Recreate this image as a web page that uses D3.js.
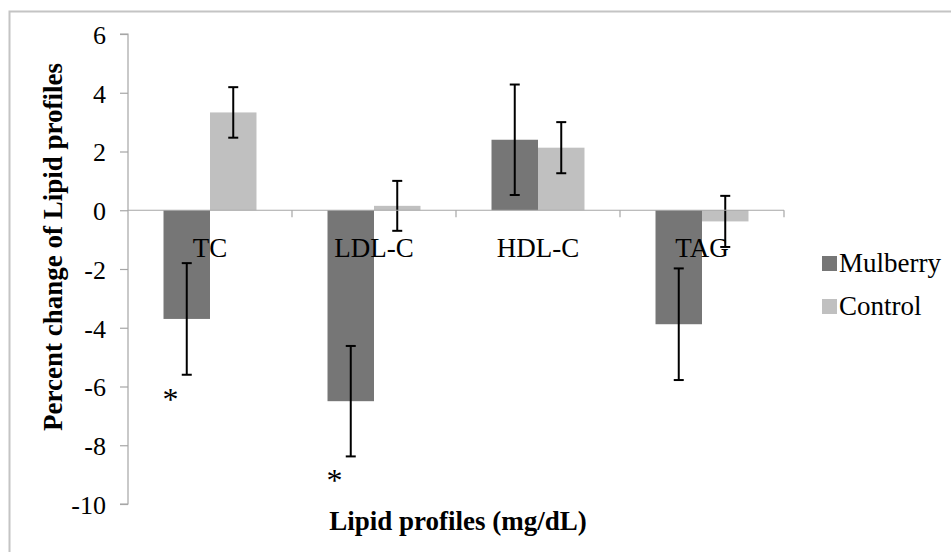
<!DOCTYPE html>
<html>
<head>
<meta charset="utf-8">
<script src="https://cdn.jsdelivr.net/npm/d3@7"></script>
<style>
  body { margin: 0; background: #fff; }
  svg text { font-family: "Liberation Serif", "Times New Roman", serif !important; fill: #000; }
</style>
</head>
<body>
<div id="chart"></div>
<script>
var categories = ["TC", "LDL-C", "HDL-C", "TAG"];
var seriesNames = ["Mulberry", "Control"];
var mulberryValues = [-3.7, -6.5, 2.4, -3.88];
var mulberryErrors = [1.9, 1.88, 1.88, 1.9];
var controlValues = [3.33, 0.15, 2.13, -0.38];
var controlErrors = [0.86, 0.85, 0.87, 0.87];
var significant = [true, true, false, false]; // asterisk under mulberry bar
var yTicks = [6, 4, 2, 0, -2, -4, -6, -8, -10];

var serif = "'Liberation Serif', 'Times New Roman', serif";

function init() {
    var w = 951, h = 552;
    var left = 128, right = 784, top = 34, bottom = 504;

    var svg = d3.select("#chart").append("svg")
        .attr("width", w)
        .attr("height", h);

    // outer frame (only top and left visible)
    svg.append("path")
        .attr("d", "M9.5,552V11.5H951")
        .attr("fill", "none")
        .attr("stroke", "#c4c4c4")
        .attr("stroke-width", 2);

    var x0 = d3.scaleBand()
        .domain(categories)
        .range([left, right])
        .paddingInner(0.433)
        .paddingOuter(0.2165);

    var x1 = d3.scaleBand()
        .domain(seriesNames)
        .range([0, x0.bandwidth()]);

    var y = d3.scaleLinear()
        .domain([-10, 6])
        .range([bottom, top]);

    var colors = { "Mulberry": "#767676", "Control": "#c0c0c0" };

    var rows = categories.map(function(c, i) {
        return {
            cat: c,
            bars: [
                { name: "Mulberry", v: mulberryValues[i], e: mulberryErrors[i] },
                { name: "Control", v: controlValues[i], e: controlErrors[i] }
            ]
        };
    });

    var groups = svg.selectAll("g.grp")
        .data(rows)
        .enter()
        .append("g")
        .attr("class", "grp")
        .attr("transform", function(d) { return "translate(" + x0(d.cat) + ",0)"; });

    groups.selectAll("rect")
        .data(function(d) { return d.bars; })
        .enter()
        .append("rect")
        .attr("x", function(d) { return x1(d.name); })
        .attr("y", function(d) { return y(Math.max(0, d.v)); })
        .attr("width", x1.bandwidth())
        .attr("height", function(d) { return Math.abs(y(d.v) - y(0)); })
        .attr("fill", function(d) { return colors[d.name]; });

    // y axis
    var yAxis = d3.axisLeft(y)
        .tickValues(yTicks)
        .tickSize(8)
        .tickPadding(14)
        .tickFormat(function(d) { return String(d); });
    var gy = svg.append("g")
        .attr("transform", "translate(" + left + ",0)")
        .call(yAxis);
    gy.attr("font-family", serif);
    gy.select(".domain").attr("stroke", "#a6a6a6").attr("stroke-width", 1.2)
        .attr("d", "M-8," + y(6) + "H0V" + y(-10) + "H-8");
    gy.selectAll(".tick line").attr("stroke", "#a6a6a6").attr("stroke-width", 1.2);
    gy.selectAll(".tick text")
        .style("font-family", serif)
        .style("font-size", "26px")
        .attr("dy", "0.36em")
        .attr("fill", "#000");

    // x axis line at zero with boundary ticks
    svg.append("line")
        .attr("x1", left).attr("x2", right)
        .attr("y1", y(0)).attr("y2", y(0))
        .attr("stroke", "#a6a6a6").attr("stroke-width", 1.2);
    var step = x0.step();
    svg.selectAll("line.xtick")
        .data(categories)
        .enter()
        .append("line")
        .attr("class", "xtick")
        .attr("x1", function(d) { return x0(d) - (step - x0.bandwidth()) / 2 + step; })
        .attr("x2", function(d) { return x0(d) - (step - x0.bandwidth()) / 2 + step; })
        .attr("y1", y(0)).attr("y2", y(0) + 7)
        .attr("stroke", "#a6a6a6").attr("stroke-width", 1.2);

    // error bars
    var eb = groups.selectAll("g.err")
        .data(function(d) { return d.bars; })
        .enter()
        .append("g")
        .attr("class", "err")
        .attr("stroke", "#000")
        .attr("stroke-width", 2);
    eb.append("line")
        .attr("x1", function(d) { return x1(d.name) + x1.bandwidth() / 2; })
        .attr("x2", function(d) { return x1(d.name) + x1.bandwidth() / 2; })
        .attr("y1", function(d) { return y(d.v + d.e); })
        .attr("y2", function(d) { return y(d.v - d.e); });
    eb.append("line")
        .attr("x1", function(d) { return x1(d.name) + x1.bandwidth() / 2 - 5; })
        .attr("x2", function(d) { return x1(d.name) + x1.bandwidth() / 2 + 5; })
        .attr("y1", function(d) { return y(d.v + d.e); })
        .attr("y2", function(d) { return y(d.v + d.e); });
    eb.append("line")
        .attr("x1", function(d) { return x1(d.name) + x1.bandwidth() / 2 - 5; })
        .attr("x2", function(d) { return x1(d.name) + x1.bandwidth() / 2 + 5; })
        .attr("y1", function(d) { return y(d.v - d.e); })
        .attr("y2", function(d) { return y(d.v - d.e); });

    // category labels just below the zero line
    svg.selectAll("text.cat")
        .data(categories)
        .enter()
        .append("text")
        .attr("class", "cat")
        .attr("x", function(d) { return x0(d) + x0.bandwidth() / 2; })
        .attr("y", y(0) + 47)
        .attr("text-anchor", "middle")
        .style("font-family", serif)
        .style("font-size", "27px")
        .text(function(d) { return d; });

    // asterisks for significance
    svg.selectAll("text.star")
        .data(categories.filter(function(c, i) { return significant[i]; }))
        .enter()
        .append("text")
        .attr("class", "star")
        .attr("x", function(d) { return x0(d) - 1; })
        .attr("y", function(d) {
            var i = categories.indexOf(d);
            return y(mulberryValues[i] - mulberryErrors[i]) + 35;
        })
        .style("font-family", serif)
        .style("font-size", "32px")
        .text("*");

    // legend
    var legend = svg.selectAll("g.leg")
        .data(seriesNames)
        .enter()
        .append("g")
        .attr("class", "leg")
        .attr("transform", function(d, i) { return "translate(822," + (256 + i * 43) + ")"; });
    legend.append("rect")
        .attr("width", 15).attr("height", 15)
        .attr("fill", function(d) { return colors[d]; });
    legend.append("text")
        .attr("x", 17).attr("y", 16)
        .style("font-family", serif)
        .style("font-size", "27px")
        .text(function(d) { return d; });

    // axis titles
    svg.append("text")
        .attr("transform", "translate(62,247) rotate(-90)")
        .attr("text-anchor", "middle")
        .style("font-family", serif)
        .style("font-size", "27px")
        .attr("font-weight", "bold")
        .text("Percent change of Lipid profiles");

    svg.append("text")
        .attr("x", (left + right) / 2 + 2)
        .attr("y", 530)
        .attr("text-anchor", "middle")
        .style("font-family", serif)
        .style("font-size", "27px")
        .attr("font-weight", "bold")
        .text("Lipid profiles (mg/dL)");
}
window.onload = init;
</script>
</body>
</html>
